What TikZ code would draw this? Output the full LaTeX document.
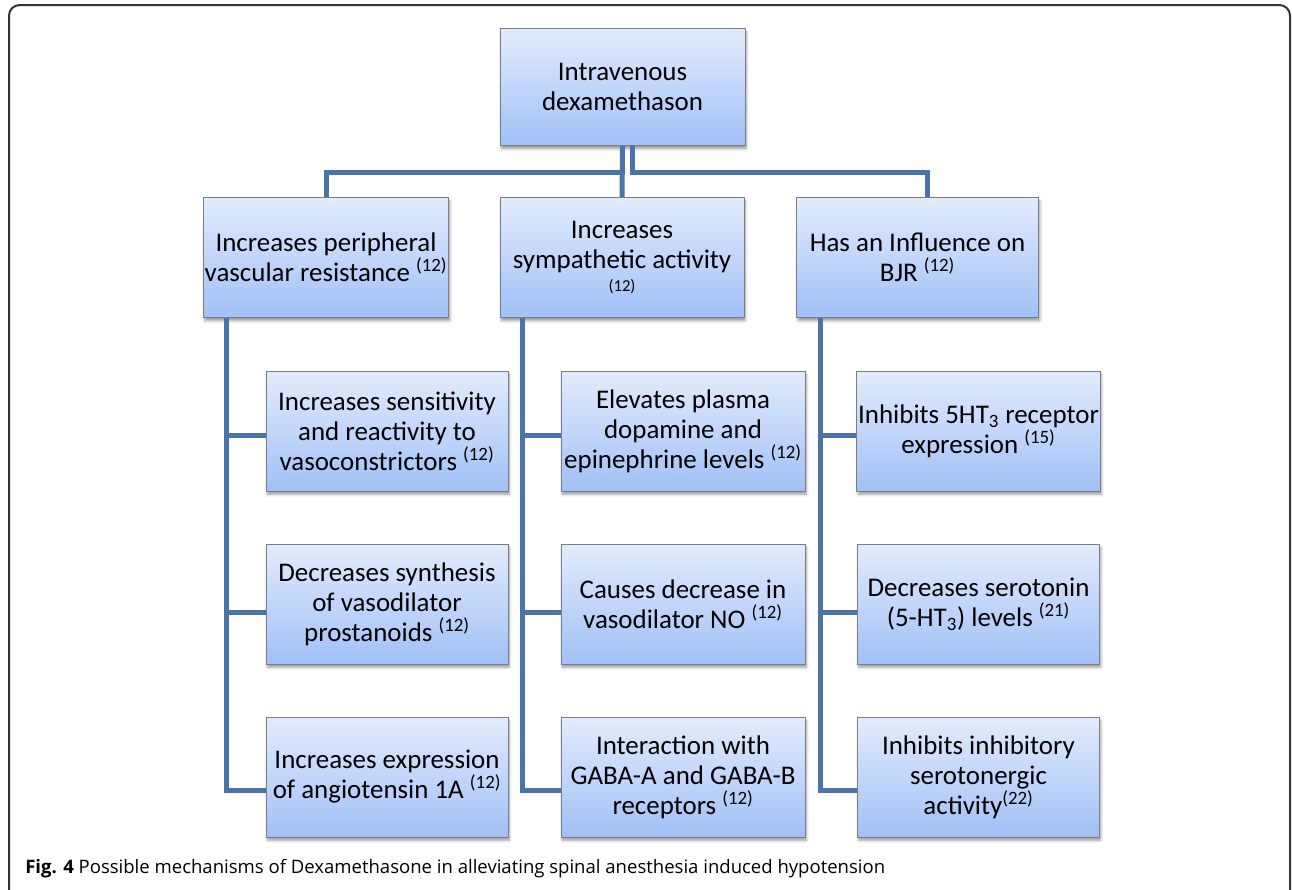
\documentclass[tikz,border=0pt]{standalone}
\usepackage{fontspec}
\setmainfont{Carlito}
\newfontfamily\captionfont{Open Sans}
\usetikzlibrary{shadows.blur}
\definecolor{linkblue}{RGB}{74, 116, 168}
\definecolor{boxtop}{RGB}{226, 236, 252}
\definecolor{boxbot}{RGB}{161, 192, 247}
\definecolor{boxedge}{RGB}{120, 125, 135}
\tikzset{
  mech/.style = {draw = boxedge, line width = 0.6pt, top color = boxtop, bottom color = boxbot,
    minimum width = 181.5pt, minimum height = 90pt, align = center, inner sep = 1pt,
    font = \fontsize{20.2}{22.5}\selectfont,
    blur shadow = {shadow xshift = 1pt, shadow yshift = -2.5pt, shadow blur radius = 2pt, shadow opacity = 40}},
  link/.style = {draw = linkblue, line width = 3.75pt}
}

\begin{document}
\begin{tikzpicture}[x = 0.75pt, y = -0.75pt]
\useasboundingbox (0, 0) rectangle (1292, 889);
\clip (0, 0) rectangle (1292, 889);
\draw[line width = 1.5pt, draw = black!80, rounded corners = 8pt] (9, 905) |- (1290, 5) -- (1290, 905);

% top and second level
\node[mech, minimum width = 183.75pt, minimum height = 87.75pt] (top) at (622.5, 87) {Intravenous\\dexamethason};
\node[mech] (l2a) at (326, 257.5) {Increases peripheral\\vascular resistance \textsuperscript{(12)}};
\node[mech, minimum width = 183pt] (l2b) at (622, 257.5) {Increases\\sympathetic activity\\[-5pt]{\fontsize{12.5}{14}\selectfont (12)}};
\node[mech] (l2c) at (917.5, 257.5) {Has an Influence on\\BJR \textsuperscript{(12)}};

% third level
\node[mech] (a1) at (387, 431) {Increases sensitivity\\and reactivity to\\vasoconstrictors \textsuperscript{(12)}};
\node[mech] (a2) at (387, 604) {Decreases synthesis\\of vasodilator\\prostanoids \textsuperscript{(12)}};
\node[mech] (a3) at (387, 777) {Increases expression\\of angiotensin 1A \textsuperscript{(12)}};
\node[mech, minimum width = 183pt] (b1) at (683, 431) {Elevates plasma\\dopamine and\\epinephrine levels \textsuperscript{(12)}};
\node[mech, minimum width = 183pt] (b2) at (683, 604) {Causes decrease in\\vasodilator NO \textsuperscript{(12)}};
\node[mech, minimum width = 183pt] (b3) at (683, 777) {Interaction with\\GABA-A and GABA-B\\receptors \textsuperscript{(12)}};
\node[mech] (c1) at (978.5, 431) {Inhibits 5HT\textsubscript{3} receptor\\expression \textsuperscript{(15)}};
\node[mech] (c2) at (978.5, 604) {Decreases serotonin\\(5-HT\textsubscript{3}) levels \textsuperscript{(21)}};
\node[mech] (c3) at (978.5, 777) {Inhibits inhibitory\\serotonergic\\activity\textsuperscript{(22)}};

% connectors from the top box
\draw[link] (top.south) -- ++(0, 27) -| (l2a.north);
\draw[link] (top.south) -- (l2b.north);
\draw[link] ([xshift = 7.5pt]top.south) -- ++(0, 27) -| ([xshift = 7.5pt]l2c.north);

% trunks
\draw[link] ([xshift = 17.25pt]l2a.south west) |- ([yshift = -9.75pt]a3.west);
\draw[link] ([xshift = 17.25pt]l2a.south west) |- ([yshift = -3pt]a1.west);
\draw[link] ([xshift = 17.25pt]l2a.south west) |- ([yshift = -6pt]a2.west);
\draw[link] ([xshift = 17.25pt]l2b.south west) |- ([yshift = -9.75pt]b3.west);
\draw[link] ([xshift = 17.25pt]l2b.south west) |- ([yshift = -3pt]b1.west);
\draw[link] ([xshift = 17.25pt]l2b.south west) |- ([yshift = -6pt]b2.west);
\draw[link] ([xshift = 18pt]l2c.south west) |- ([yshift = -9.75pt]c3.west);
\draw[link] ([xshift = 18pt]l2c.south west) |- ([yshift = -3pt]c1.west);
\draw[link] ([xshift = 18pt]l2c.south west) |- ([yshift = -6pt]c2.west);

\node[anchor = base west, inner sep = 0pt, font = \captionfont\fontsize{13.9}{16}\selectfont] (caption) at (25, 873)
  {\textbf{Fig. 4} Possible mechanisms of Dexamethasone in alleviating spinal anesthesia induced hypotension};
\end{tikzpicture}
\end{document}
